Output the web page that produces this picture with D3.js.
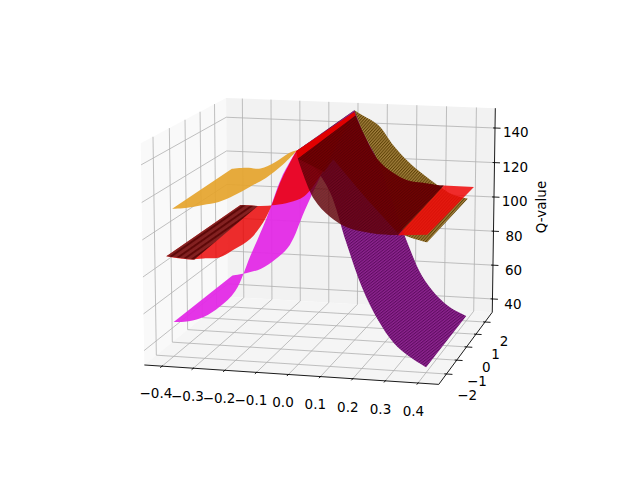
<!DOCTYPE html><html><head><meta charset="utf-8"><script src="https://cdn.jsdelivr.net/npm/d3@7"></script></head><body style="margin:0;background:#fff">
<svg id="c" width="639" height="479"></svg>
<script>
// ---- axis ticks ----
const xTicks=[-0.4,-0.3,-0.2,-0.1,0,0.1,0.2,0.3,0.4];
const xTickLabels=["−0.4","−0.3","−0.2","−0.1","0.0","0.1","0.2","0.3","0.4"];
const yTicks=[-2,-1,0,1,2];
const yTickLabels=["−2","−1","0","1","2"];
const zTicks=[40,60,80,100,120,140];
const zTickLabels=["40","60","80","100","120","140"];
const zAxisTitle="Q-value";
// ---- surface samples: Q at the y=-2 edge and the y=+2 edge ----
const yEdges=[-2,2];
const xLeft=[-0.40,-0.35,-0.30,-0.25,-0.20,-0.15,-0.10,-0.05,-0.005];
const xRight=[0.005,0.05,0.10,0.15,0.20,0.25,0.30,0.35,0.40];
const orangeLeftNear=[113,114,116,118,122,127,132,139,147];
const orangeLeftFar=[114,115,115,119,125,128,133,138,150];
const orangeRightNear=[147,140,133,124,117,112,107,104,102];
const orangeRightFar=[151,148,143,132,123,116,110,105,103];
const magentaLeftNear=[51,52,55,61,70,90,110,133,147];
const magentaLeftFar=[51,53,56,62,71,91,110,126,150];
const magentaRightNear=[147,139,126,100,76,59,47,40,35];
const magentaRightFar=[151,138,122,99,76,57,46,39,35];
const redLeftNear=[87,86,87,88,93,99,111,132,147];
const redLeftFar=[93,93,93,94,96,100,111,127,150];
const redRightNear=[147,122,113,108,106,105,105,105,106];
const redRightFar=[151,138,123,116,112,111,110,110,110];
// where each left/right sheet stops in x: [near, far]
const leftStart={orange:[-0.40,-0.40],magenta:[-0.40,-0.40],red:[-0.42,-0.37]};
const rightStop={orange:[0.40,0.40],magenta:[0.40,0.40],red:[0.40,0.42]};
const redLeftDarkStop=[-0.33,-0.31], redRightDarkStop=[0.31,0.32];
const redRightDarkStart=[[0.0,143],[0.024,148]];
// lower limit of the darkest part of the red sheet: x and Q read at y=-2
const crestX=[0.0,0.082,0.11,0.21,0.31];
const crestQ=[143,136.6,143.6,124,106];

const fX=d3.scaleLinear([-0.457,0.463],[0,1]),
      fY=d3.scaleLinear([-2.724,2.831],[0,1]),
      fZ=d3.scaleLinear([32.1,151.4],[0,1]);
const cam={elev:11.996,azim:-76.144,s:2388.05,cx:325.79,cy:232.23,d:8.245},B=[1,1,0.75];
const er=cam.elev*Math.PI/180,ar=cam.azim*Math.PI/180;
const n=[Math.cos(er)*Math.cos(ar),Math.cos(er)*Math.sin(ar),Math.sin(er)];
const ul=Math.hypot(n[0],n[1]),u=[-n[1]/ul,n[0]/ul,0];
const v=[n[1]*u[2]-n[2]*u[1],n[2]*u[0]-n[0]*u[2],n[0]*u[1]-n[1]*u[0]];
const dot=(a,b)=>a[0]*b[0]+a[1]*b[1]+a[2]*b[2];
function pf(a,b,c){const w=[(a-.5)*B[0],(b-.5)*B[1],(c-.5)*B[2]];const z=cam.d-dot(w,n);
  return [cam.cx+cam.s*dot(w,u)/z,cam.cy-cam.s*dot(w,v)/z];}
const P=(x,y,z)=>pf(fX(x),fY(y),fZ(z));

const svg=d3.select("#c");
const defs=svg.append("defs");
function stripes(id,base,line,ang,pitch,w){const p=defs.append("pattern").attr("id",id).attr("patternUnits","userSpaceOnUse")
  .attr("width",pitch).attr("height",pitch).attr("patternTransform",`rotate(${ang})`);
  p.append("rect").attr("width",pitch).attr("height",pitch).attr("fill",base);
  p.append("rect").attr("width",pitch).attr("height",w).attr("fill",line);}
stripes("wPurple","#8d2490","#5e0d60",-38,2.3,1);
stripes("wBrown","#a17f3c","#5e4208",-48,2.2,1);
stripes("wDarkUnder","#6a0008","#540004",-40,2.1,1);
stripes("wDark","#700002","#5a0000",-40,2.1,1);
stripes("wMaroon","#7d2020","#560606",-35,4.8,2);

// panes
const poly=(pts,fill,op=1)=>svg.append("polygon").attr("points",pts.map(q=>q.join(",")).join(" ")).attr("fill",fill).attr("fill-opacity",op);
poly([pf(0,0,0),pf(0,1,0),pf(0,1,1),pf(0,0,1)],"#f9f9f9");
poly([pf(0,1,0),pf(1,1,0),pf(1,1,1),pf(0,1,1)],"#f2f2f2");
poly([pf(0,0,0),pf(1,0,0),pf(1,1,0),pf(0,1,0)],"#f5f5f5");
// grid
const gl=(a,b)=>svg.append("line").attr("x1",a[0]).attr("y1",a[1]).attr("x2",b[0]).attr("y2",b[1]);
const grid=[];
xTicks.forEach(t=>{const a=fX(t);grid.push(gl(pf(a,0,0),pf(a,1,0)),gl(pf(a,1,0),pf(a,1,1)));});
yTicks.forEach(t=>{const a=fY(t);grid.push(gl(pf(1,a,0),pf(0,a,0)),gl(pf(0,a,0),pf(0,a,1)));});
zTicks.forEach(t=>{const a=fZ(t);grid.push(gl(pf(1,1,a),pf(0,1,a)),gl(pf(0,1,a),pf(0,0,a)));});
grid.forEach(g=>g.attr("stroke","#b0b0b0").attr("stroke-width",0.8));

// surfaces
const line=d3.line().curve(d3.curveCatmullRom.alpha(0.5));
const flat=d3.line();
function sheet(xs,near,far,x0n,x0f,x1n,x1f,fill,op){
  const nx=xs.map((x,i)=>i==0?x0n:i==xs.length-1?x1n:x),fx=xs.map((x,i)=>i==0?x0f:i==xs.length-1?x1f:x);
  const a=line(nx.map((x,i)=>P(x,yEdges[0],near[i])));
  const b=line(fx.map((x,i)=>P(x,yEdges[1],far[i])).reverse());
  svg.append("path").attr("d",a+"L"+b.slice(1)+"Z").attr("fill",fill).attr("fill-opacity",op);
}
sheet(xLeft,orangeLeftNear,orangeLeftFar,leftStart.orange[0],leftStart.orange[1],xLeft[8],xLeft[8]+0.025,"#e5a42c",0.92);
sheet(xRight,orangeRightNear,orangeRightFar,-0.005,0.02,rightStop.orange[0],rightStop.orange[1],"url(#wBrown)",1);
sheet(xLeft,magentaLeftNear,magentaLeftFar,leftStart.magenta[0],leftStart.magenta[1],xLeft[8],xLeft[8]+0.025,"#e32ae6",0.95);
sheet(xRight,magentaRightNear,magentaRightFar,-0.005,0.02,rightStop.magenta[0],rightStop.magenta[1],"url(#wPurple)",1);
sheet(xLeft,redLeftNear,redLeftFar,leftStart.red[0],leftStart.red[1],xLeft[8],xLeft[8]+0.025,"#ea0000",0.82);
poly([P(leftStart.red[0],-2,redLeftNear[0]),P(redLeftDarkStop[0],-2,redLeftNear[1]),P(redLeftDarkStop[1],2,redLeftFar[1]),P(leftStart.red[1],2,redLeftFar[0])],"url(#wMaroon)",0.95);
// red right sheet: bright end piece, dark sheet from the ridge to the stop
const cut=(xs,zs,stop,start)=>{const k=xs.filter(x=>x<stop).length;const pts=[start];for(let i=1;i<k;i++)pts.push([xs[i],zs[i]]);pts.push([stop,zs[k-1]+(zs[k]-zs[k-1])*(stop-xs[k-1])/(xs[k]-xs[k-1])]);return pts;};
const nearCut=cut(xRight,redRightNear,redRightDarkStop[0],redRightDarkStart[0]),farCut=cut(xRight,redRightFar,redRightDarkStop[1],redRightDarkStart[1]);
const nEnd=nearCut[nearCut.length-1],fEnd=farCut[farCut.length-1];
poly([P(nEnd[0],-2,nEnd[1]),P(rightStop.red[0],-2,redRightNear[8]),P(rightStop.red[1],2,redRightFar[8]),P(fEnd[0],2,fEnd[1])],"#f00808",0.85);
// ridge band
poly([P(xLeft[8],-2,redLeftNear[8]),P(xLeft[8]+0.025,2,redLeftFar[8]),P(redRightDarkStart[1][0],2,redRightDarkStart[1][1]),P(redRightDarkStart[0][0],-2,redRightDarkStart[0][1])],"#e00000");
const farPts=farCut.map(q=>P(q[0],2,q[1])).reverse();
svg.append("path").attr("d",line(nearCut.map(q=>P(q[0],-2,q[1])))+"L"+line(farPts).slice(1)+"Z").attr("fill","url(#wDarkUnder)").attr("fill-opacity",0.82);
svg.append("path").attr("d",flat(crestX.map((x,i)=>P(x,-2,crestQ[i])))+"L"+line(farPts).slice(1)+"Z").attr("fill","url(#wDark)").attr("fill-opacity",0.85);

// axes
const axis=(a,b)=>svg.append("line").attr("x1",a[0]).attr("y1",a[1]).attr("x2",b[0]).attr("y2",b[1]).attr("stroke","#000").attr("stroke-width",0.9);
axis(pf(0,0,0),pf(1,0,0));axis(pf(1,0,0),pf(1,1,0));axis(pf(1,1,0),pf(1,1,1));
const lab=(q,t)=>svg.append("text").attr("x",q[0]).attr("y",q[1]).attr("text-anchor","middle").attr("dominant-baseline","central")
  .attr("font-family","DejaVu Sans").attr("font-size",13.5).attr("fill","#000").text(t);
xTicks.forEach((t,i)=>{const a=fX(t);axis(pf(a,0.007,0),pf(a,-0.02,0));lab(pf(a,-0.07,-0.1),xTickLabels[i]);});
yTicks.forEach((t,i)=>{const a=fY(t);axis(pf(0.993,a,0),pf(1.02,a,0));lab(pf(1.07,a,-0.09),yTickLabels[i]);});
zTicks.forEach((t,i)=>{const a=fZ(t);axis(pf(0.993,1,a),pf(1.02,1,a));lab(pf(1.085,0.94,a),zTickLabels[i]);});
svg.append("text").attr("transform","translate(541,207) rotate(-90)").attr("text-anchor","middle").attr("dominant-baseline","central")
  .attr("font-family","DejaVu Sans").attr("font-size",13.5).text(zAxisTitle);
</script></body></html>
